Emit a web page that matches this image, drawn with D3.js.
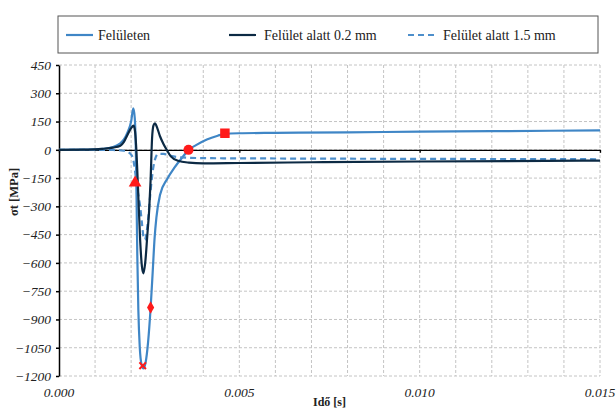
<!DOCTYPE html>
<html>
<head>
<meta charset="utf-8">
<script src="https://cdn.jsdelivr.net/npm/d3@7"></script>
<style>
  body { margin: 0; background: #fff; }
  svg { display: block; }
  text { font-family: "Liberation Serif", "DejaVu Serif", serif; }
</style>
</head>
<body>
<div id="chart"></div>
<script>
// data
var seriesNames = ["Felületen", "Felület alatt 0.2 mm", "Felület alatt 1.5 mm"];

var timeSurf = [0, 0.0008, 0.0012, 0.0015, 0.0017, 0.0018, 0.0019, 0.0020, 0.00206, 0.0021, 0.00213, 0.00215, 0.00217, 0.0022, 0.00224, 0.00229, 0.00234, 0.0024, 0.00247, 0.00254, 0.0026, 0.00265, 0.0027, 0.0028, 0.0030, 0.0032, 0.0034, 0.0036, 0.0038, 0.0041, 0.0044, 0.0046, 0.0050, 0.0060, 0.0080, 0.0100, 0.0120, 0.0150];
var sigmaSurf = [0, 1, 5, 15, 35, 55, 92, 150, 220, 170, 0, -250, -550, -850, -1050, -1140, -1160, -1130, -1020, -840, -640, -470, -360, -240, -155, -95, -45, 0, 25, 55, 75, 85, 88, 90, 93, 96, 99, 103];

var time02 = [0, 0.0008, 0.0012, 0.0015, 0.0017, 0.0018, 0.0019, 0.0020, 0.00207, 0.00211, 0.00215, 0.00219, 0.00225, 0.0023, 0.00234, 0.00239, 0.00245, 0.0025, 0.00254, 0.00258, 0.00262, 0.00266, 0.0027, 0.0028, 0.0029, 0.0030, 0.0031, 0.0033, 0.0036, 0.0040, 0.0050, 0.0070, 0.0100, 0.0150];
var sigma02 = [0, 1, 5, 12, 22, 42, 80, 115, 128, 95, -20, -200, -480, -620, -655, -600, -450, -320, -160, 60, 130, 141, 128, 72, 30, -4, -35, -58, -68, -72, -70, -66, -62, -57];

var time15 = [0, 0.0015, 0.0018, 0.0019, 0.0020, 0.00206, 0.0021, 0.00215, 0.0022, 0.00225, 0.0023, 0.00234, 0.00238, 0.00242, 0.00247, 0.00252, 0.00257, 0.00262, 0.00268, 0.00275, 0.0029, 0.0031, 0.0034, 0.0040, 0.0060, 0.0100, 0.0150];
var sigma15 = [0, -1, -5, -12, -25, -53, -100, -177, -240, -300, -390, -459, -477, -450, -370, -260, -160, -88, -40, -21, -22, -32, -40, -44, -46, -48, -50];

var markerTimes = [0.00211, 0.00232, 0.00254, 0.00359, 0.0046];
var markerValues = [-175, -1145, -836, 0, 88];
var markerShapes = ["triangle", "x", "diamond", "circle", "square"];

var yTicks = d3.range(-1200, 451, 150);
var xGrid = d3.range(0, 0.01501, 0.001);
var xLabels = [0, 0.005, 0.010, 0.015];

var width = 616, height = 408;
var margin = {top: 65, right: 16, bottom: 32, left: 59};
var serif = "Liberation Serif, DejaVu Serif, serif";

var xScale = d3.scaleLinear().domain([0, 0.015]).range([margin.left, width - margin.right]);
var yScale = d3.scaleLinear().domain([-1200, 450]).range([height - margin.bottom, margin.top]);

var svg = d3.select("#chart").append("svg")
    .attr("width", width)
    .attr("height", height)
    .attr("font-family", serif);

// grid
svg.append("g").selectAll("line.h")
    .data(yTicks)
    .enter().append("line")
    .attr("x1", xScale(0)).attr("x2", xScale(0.015))
    .attr("y1", function(d){ return yScale(d); })
    .attr("y2", function(d){ return yScale(d); })
    .attr("stroke", "#c4c4c4").attr("stroke-width", 1)
    .attr("stroke-dasharray", "3,2");
svg.append("g").selectAll("line.v")
    .data(xGrid.slice(1))
    .enter().append("line")
    .attr("x1", function(d){ return xScale(d); })
    .attr("x2", function(d){ return xScale(d); })
    .attr("y1", yScale(450)).attr("y2", yScale(-1200))
    .attr("stroke", "#c4c4c4").attr("stroke-width", 1)
    .attr("stroke-dasharray", "3,2");

// zero line with ticks
var xAxis = d3.axisBottom(xScale).tickValues(xLabels).tickSize(3).tickSizeOuter(0).tickFormat("");
svg.append("g")
    .attr("transform", "translate(0," + yScale(0) + ")")
    .call(xAxis)
    .call(function(g){ g.selectAll("path, line").attr("stroke", "#000").attr("stroke-width", 1.3); });

// x labels at bottom
svg.append("g").selectAll("text")
    .data(xLabels)
    .enter().append("text")
    .attr("x", function(d){ return xScale(d); })
    .attr("y", yScale(-1200) + 21)
    .attr("text-anchor", "middle")
    .attr("font-family", serif)
    .attr("font-style", "italic")
    .attr("font-size", 13.5)
    .attr("fill", "#222")
    .text(d3.format(".3f"));

// y axis
var yAxis = d3.axisLeft(yScale).tickValues(yTicks).tickSize(3).tickSizeOuter(0).tickPadding(5)
    .tickFormat(d3.format("d"));
svg.append("g")
    .attr("transform", "translate(" + margin.left + ",0)")
    .call(yAxis)
    .attr("font-family", serif)
    .call(function(g){
        g.selectAll("path, line").attr("stroke", "#000").attr("stroke-width", 1.5);
        g.selectAll("text").attr("font-style", "italic").attr("font-size", 13.5)
            .attr("font-family", serif).attr("fill", "#222");
    });

// axis titles
svg.append("text")
    .attr("x", (xScale(0) + xScale(0.015)) / 2)
    .attr("y", 406)
    .attr("text-anchor", "middle")
    .attr("font-family", serif)
    .attr("font-weight", "bold")
    .attr("font-size", 12)
    .attr("fill", "#222")
    .text("Idő [s]");
svg.append("text")
    .attr("transform", "translate(18,192) rotate(-90)")
    .attr("text-anchor", "middle")
    .attr("font-family", serif)
    .attr("font-weight", "bold")
    .attr("font-size", 12.5)
    .attr("fill", "#222")
    .text("σt [MPa]");

// lines
var line = d3.line()
    .x(function(d){ return xScale(d[0]); })
    .y(function(d){ return yScale(d[1]); })
    .curve(d3.curveMonotoneX);

var series = [
    {t: timeSurf, v: sigmaSurf, color: "#3f86c6", dash: null},
    {t: time15, v: sigma15, color: "#4e8fcb", dash: "6,4"},
    {t: time02, v: sigma02, color: "#0c2a44", dash: null}
];
series.forEach(function(s){
    svg.append("path")
        .datum(d3.zip(s.t, s.v))
        .attr("d", line)
        .attr("fill", "none")
        .attr("stroke", s.color)
        .attr("stroke-width", 2.2)
        .attr("stroke-dasharray", s.dash);
});

// markers
var symbolTypes = {
    triangle: d3.symbolTriangle,
    diamond: d3.symbolDiamond,
    circle: d3.symbolCircle,
    square: d3.symbolSquare
};
var symbolSizes = {triangle: 70, diamond: 45, circle: 80, square: 90};
var markers = d3.zip(markerTimes, markerValues, markerShapes);
markers.forEach(function(m){
    var g = svg.append("g").attr("transform", "translate(" + xScale(m[0]) + "," + yScale(m[1]) + ")");
    if (m[2] === "x") {
        g.append("path")
            .attr("d", d3.symbol().type(d3.symbolX).size(30)())
            .attr("fill", "none")
            .attr("stroke", "#ff1a1a")
            .attr("stroke-width", 2);
    } else {
        g.append("path")
            .attr("d", d3.symbol().type(symbolTypes[m[2]]).size(symbolSizes[m[2]])())
            .attr("fill", "#ff1a1a");
    }
});

// legend
var legend = svg.append("g");
legend.append("rect")
    .attr("x", 58).attr("y", 16).attr("width", 540).attr("height", 37)
    .attr("fill", "#fff").attr("stroke", "#555").attr("stroke-width", 1);
var legX = [66, 229, 408];
seriesNames.forEach(function(name, i){
    var s = [series[0], series[2], series[1]][i];
    legend.append("line")
        .attr("x1", legX[i]).attr("x2", legX[i] + 27)
        .attr("y1", 35).attr("y2", 35)
        .attr("stroke", s.color).attr("stroke-width", 2.2)
        .attr("stroke-dasharray", s.dash);
    legend.append("text")
        .attr("x", legX[i] + (i === 0 ? 32 : 35))
        .attr("y", 39.5)
        .attr("font-family", serif)
        .attr("font-size", 14)
        .attr("fill", "#222")
        .text(name);
});
</script>
</body>
</html>
